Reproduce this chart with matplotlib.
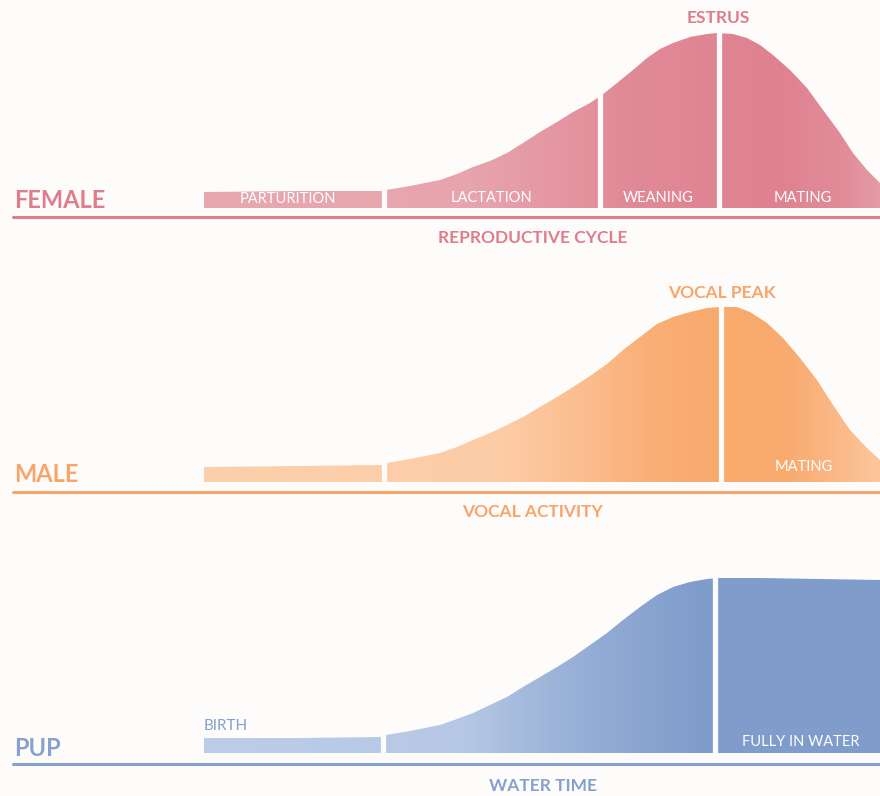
import numpy as np
import matplotlib.pyplot as plt
from matplotlib.patches import Polygon
from matplotlib.colors import to_rgb

# =============================================================================
# DATA (x = time, y = level above the baseline)
# =============================================================================
female_x = [204, 300, 381, 386, 410, 440, 457, 473, 490, 507, 523, 540, 557, 573, 590,
            602, 617, 633, 647, 660, 673, 690, 707, 717, 733, 747, 760, 773, 790,
            807, 823, 840, 853, 867, 880]
female_y = [16, 17, 17, 18, 22, 28, 34, 41, 47, 55, 65, 76, 86, 96, 105,
            113, 125, 138, 150, 159, 165, 171, 174, 175, 174, 170, 163, 153, 138,
            120, 98, 75, 55, 38, 25]
female_cuts = [384, 600, 719]

male_x = [204, 300, 382, 386, 410, 440, 457, 473, 490, 507, 523, 540, 557, 573, 590,
          607, 623, 640, 657, 673, 690, 707, 720, 737, 750, 767, 783, 800, 817,
          833, 850, 867, 880]
male_y = [15, 16, 17, 19, 23, 29, 35, 42, 49, 57, 65, 75, 85, 95, 106,
          118, 132, 145, 158, 165, 170, 174, 175, 175, 170, 159, 144, 124, 102,
          77, 52, 34, 22]
male_cuts = [384, 721]

pup_x = [204, 300, 380, 386, 410, 440, 457, 473, 490, 507, 523, 540, 557, 573, 590,
         607, 623, 640, 657, 673, 690, 707, 717, 760, 820, 880]
pup_y = [15, 15, 16, 18, 22, 28, 34, 40, 48, 56, 66, 76, 86, 96, 108,
         120, 133, 146, 158, 166, 171, 174, 175, 175, 174, 173]
pup_cuts = [383, 715]

# =============================================================================
# STYLE
# =============================================================================
bg = '#fdfcfa'
plt.rcParams['font.family'] = ['Lato', 'DejaVu Sans']

panels = [
    dict(x=female_x, y=female_y, cuts=female_cuts,
         light='#e8a8b0', dark='#df8190', line='#e07d8c',
         grad=[(204, 0.0), (470, 0.1), (560, 0.45), (620, 0.75), (700, 0.9),
               (780, 1.0), (845, 0.7), (880, 0.35)],
         top=0, bottom=250, base=208, axis_y=-9,
         name='FEMALE', name_y=8, title='REPRODUCTIVE CYCLE', title_x=533, title_y=-30,
         peak='ESTRUS', peak_x=718, peak_y=190,
         inner=[('PARTURITION', 288, 9), ('LACTATION', 491, 10),
                ('WEANING', 658, 10), ('MATING', 803, 10)]),
    dict(x=male_x, y=male_y, cuts=male_cuts,
         light='#fdd0ad', dark='#f8a96c', line='#f7a56b',
         grad=[(204, 0.0), (500, 0.1), (580, 0.45), (650, 0.85), (720, 1.0),
               (790, 0.95), (850, 0.5), (880, 0.25)],
         top=265, bottom=525, base=482, axis_y=-10,
         name='MALE', name_y=8, title='VOCAL ACTIVITY', title_x=533, title_y=-30,
         peak='VOCAL PEAK', peak_x=722, peak_y=189,
         inner=[('MATING', 804, 15)]),
    dict(x=pup_x, y=pup_y, cuts=pup_cuts,
         light='#bccde8', dark='#7f9ccb', line='#86a1cf',
         grad=[(204, 0.0), (460, 0.1), (540, 0.45), (620, 0.75), (700, 1.0),
               (880, 1.0)],
         top=540, bottom=796, base=753, axis_y=-11,
         name='PUP', name_y=4, title='WATER TIME', title_x=543, title_y=-33,
         peak=None,
         inner=[('FULLY IN WATER', 801, 11)]),
]

W, H = 880, 796
fig = plt.figure(figsize=(8.8, 7.96), dpi=100, facecolor=bg)

for p in panels:
    ax = fig.add_axes([0, 1 - p['bottom'] / H, 1, (p['bottom'] - p['top']) / H])
    ax.set_facecolor(bg)
    ax.set_xlim(0, W)
    ax.set_ylim(p['base'] - p['bottom'], p['base'] - p['top'])
    ax.axis('off')

    x = np.array(p['x'], dtype=float)
    y = np.array(p['y'], dtype=float)

    # clip shape for the gradient
    verts = np.column_stack([np.r_[x, x[-1], x[0]], np.r_[y, 0, 0]])
    shape = Polygon(verts, closed=True, facecolor='none', edgecolor='none')
    ax.add_patch(shape)

    # horizontal colour gradient
    gx = np.linspace(x[0], x[-1], 400)
    gp, gt = zip(*p['grad'])
    t = np.interp(gx, gp, gt)
    c0, c1 = np.array(to_rgb(p['light'])), np.array(to_rgb(p['dark']))
    img = (c0[None, :] * (1 - t[:, None]) + c1[None, :] * t[:, None])[None, :, :]
    im = ax.imshow(img, extent=(x[0], x[-1], 0, y.max() + 2), aspect='auto',
                   origin='lower', interpolation='bilinear', zorder=1)
    im.set_clip_path(shape)

    # white separators
    ax.vlines(p['cuts'], -1, y.max() + 5, color=bg, linewidth=3.8, zorder=2)

    # baseline
    ax.plot([13, W], [p['axis_y'], p['axis_y']], color=p['line'], linewidth=2.2,
            solid_capstyle='round', zorder=2)

    ax.text(14, p['name_y'], p['name'], color=p['line'], fontsize=17,
            fontweight='bold', ha='left', va='center')
    ax.text(p['title_x'], p['title_y'], p['title'], color=p['line'], fontsize=12.5,
            fontweight='bold', ha='center', va='center')
    if p['peak']:
        ax.text(p['peak_x'], p['peak_y'], p['peak'], color=p['line'], fontsize=12.5,
                fontweight='bold', ha='center', va='center')
    for label, lx, ly in p['inner']:
        ax.text(lx, ly, label, color='white', fontsize=10.5, ha='center',
                va='center', zorder=3)

    if p['name'] == 'PUP':
        ax.text(204, 27, 'BIRTH', color=p['line'], fontsize=11, ha='left',
                va='center')

fig.savefig('out.png', dpi=100, facecolor=bg)
